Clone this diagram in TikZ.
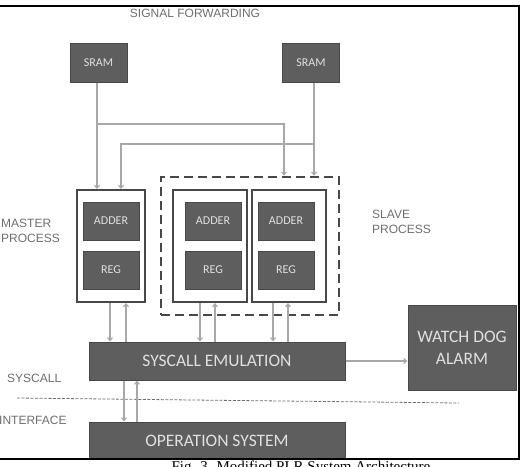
\documentclass[tikz,border=0pt]{standalone}
\usepackage{fontspec}
\setmainfont{Liberation Sans}
\newfontfamily\boxfont{Carlito}
\newfontfamily\capfont{Liberation Serif}
\usetikzlibrary{arrows.meta}
\definecolor{blockgray}{HTML}{5E5E5E}
\definecolor{blockedge}{HTML}{484848}
\definecolor{wiregray}{HTML}{A8A8A8}
\definecolor{labelgray}{HTML}{6E6E6E}

\begin{document}
\begin{tikzpicture}[x=1pt,y=-1pt,
  block/.style={draw=blockedge,line width=1pt,fill=blockgray,text=white!88!black,
    font=\boxfont\fontsize{12}{14}\selectfont,inner sep=0pt,minimum width=56pt,minimum height=38pt},
  bigblock/.style={block,font=\boxfont\fontsize{17.5}{22}\selectfont,align=center},
  unit/.style={draw=blockedge,line width=2pt,fill=white,inner sep=0pt,minimum width=74pt,minimum height=112pt},
  wire/.style={draw=wiregray,line width=1.1pt,-{Straight Barb[length=3pt,width=5pt]}},
  side/.style={text=labelgray,font=\fontsize{12}{15}\selectfont,align=left,inner sep=0pt}]
  \useasboundingbox (0,0) rectangle (526,466);

  \node[side] (sigfwd) at (195,13) {SIGNAL FORWARDING};
  \node[block,minimum width=57pt,minimum height=39pt] (sramL) at (98.5,62.5) {SRAM};
  \node[block,minimum width=57pt,minimum height=39pt] (sramR) at (311,62.5) {SRAM};

  \node[draw=blockedge,line width=2.5pt,dash pattern=on 9pt off 5pt,minimum width=178pt,minimum height=138pt] (slaves) at (250,246) {};
  \node[unit,minimum width=68pt] (master) at (111,246) {};
  \node[unit] (slave1) at (210,246) {};
  \node[unit] (slave2) at (289,246) {};
  \node[block] (addM) at (111,221) {ADDER};
  \node[block] (regM) at (111,270) {REG};
  \node[block] (addS1) at (213,221) {ADDER};
  \node[block] (regS1) at (213,270) {REG};
  \node[block] (addS2) at (286,221) {ADDER};
  \node[block] (regS2) at (286,270) {REG};

  \node[side,anchor=west] (masterlbl) at (1,230.5) {MASTER\\PROCESS};
  \node[side,anchor=west] (slavelbl) at (372,222) {SLAVE\\PROCESS};

  \node[bigblock,minimum width=256pt,minimum height=38pt] (sys) at (217,361) {SYSCALL EMULATION};
  \node[bigblock,minimum width=256pt,minimum height=37pt] (os) at (217,440.5) {OPERATION SYSTEM};
  \node[bigblock,minimum width=108pt,minimum height=85pt] (wd) at (462,347.5) {WATCH DOG\\ALARM};

  \node[side,anchor=west] (syslbl) at (7,378) {SYSCALL};
  \node[side,anchor=west] (iflbl) at (-1,420) {INTERFACE};
  \draw[labelgray,line width=0.8pt,dash pattern=on 3pt off 1.5pt] (17,398) -- (459,403);

  \coordinate (jL) at (97,124);
  \coordinate (jR) at (314,144);
  \draw[wire] (jL |- sramL.south) -- (jL |- master.north);
  \draw[wire] (jL) -| ([xshift=34pt]slaves.north);
  \draw[wire] (jR |- sramR.south) -- (jR |- slaves.north);
  \draw[wire] (jR) -| ([xshift=10pt]master.north);

  \draw[wire] ([xshift=-1pt]master.south) -- ([xshift=-1pt]master.south |- sys.north);
  \draw[wire] ([xshift=15pt]master.south |- sys.north) -- ([xshift=15pt]master.south);
  \draw[wire] ([xshift=-10pt]slave1.south) -- ([xshift=-10pt]slave1.south |- sys.north);
  \draw[wire] ([xshift=5pt]slave1.south |- sys.north) -- ([xshift=5pt]slave1.south);
  \draw[wire] ([xshift=-16pt]slave2.south) -- ([xshift=-16pt]slave2.south |- sys.north);
  \draw[wire] ([xshift=-1pt]slave2.south |- sys.north) -- ([xshift=-1pt]slave2.south);
  \draw[wire] ([xshift=-93pt]sys.south) -- ([xshift=-93pt]sys.south |- os.north);
  \draw[wire] ([xshift=-80pt]sys.south |- os.north) -- ([xshift=-80pt]sys.south);
  \draw[wire] (sys.east) -- (sys.east -| wd.west);

  \draw[line width=1.6pt] (-5,6) rectangle (519,459);
  \node[font=\capfont\fontsize{15}{17}\selectfont,anchor=base] (caption) at (301,471) {Fig. 3. Modified PLR System Architecture};
\end{tikzpicture}
\end{document}
